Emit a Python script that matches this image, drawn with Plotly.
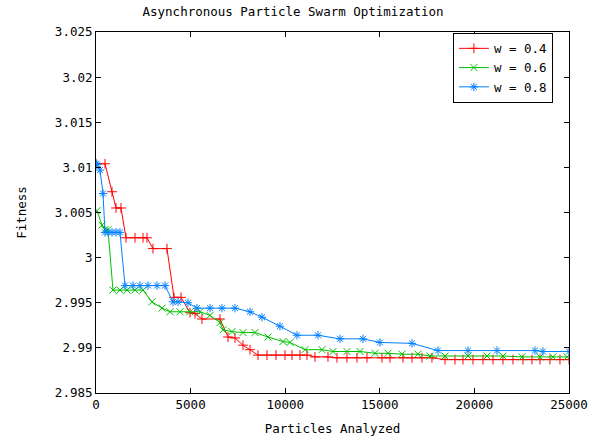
import plotly.graph_objects as go

# ---- data ----
x_w04 = [0, 476, 846, 1057, 1321, 1586, 2061, 2484, 2695, 3012, 3752, 4122, 4492,
         4968, 5232, 5602, 6553, 6976, 7346, 7769, 8139, 8562, 9037, 9513, 9989,
         10359, 10781, 11151, 11574, 12261, 12737, 13265, 13794, 14322, 15115,
         15538, 16225, 16700, 17229, 17757, 18445, 18973, 19396, 19925, 20453,
         20982, 21510, 22039, 22567, 23043, 23465, 23994, 24522, 25000]
y_w04 = [3.0104, 3.0104, 3.0073, 3.0055, 3.0055, 3.0022, 3.0022, 3.0022, 3.0022,
         3.0010, 3.0010, 2.9956, 2.9956, 2.9939, 2.9938, 2.9932, 2.9932, 2.9912,
         2.9911, 2.9903, 2.9898, 2.9892, 2.9892, 2.9892, 2.9892, 2.9892, 2.9892,
         2.9892, 2.9890, 2.9890, 2.9889, 2.9889, 2.9889, 2.9889, 2.9889, 2.9889,
         2.9889, 2.9889, 2.9889, 2.9889, 2.9887, 2.9887, 2.9887, 2.9887, 2.9887,
         2.9887, 2.9887, 2.9887, 2.9887, 2.9887, 2.9887, 2.9887, 2.9887, 2.9887]

x_w06 = [53, 317, 476, 634, 898, 1268, 1638, 2061, 2484, 2960, 3488, 3911, 4439,
         4968, 5497, 6025, 6553, 6712, 7188, 7769, 8403, 9090, 9883, 10253, 11046,
         11944, 12525, 13265, 13952, 14745, 15432, 16172, 17017, 17652, 18445,
         19661, 20665, 21510, 22514, 23465, 24152, 24900]
y_w06 = [3.0052, 3.0036, 3.0031, 3.0031, 2.9964, 2.9964, 2.9964, 2.9964, 2.9964,
         2.9951, 2.9944, 2.9940, 2.9940, 2.9940, 2.9940, 2.9936, 2.9928, 2.9920,
         2.9918, 2.9917, 2.9917, 2.9912, 2.9907, 2.9906, 2.9898, 2.9898, 2.9896,
         2.9896, 2.9896, 2.9894, 2.9894, 2.9893, 2.9893, 2.9891, 2.9891, 2.9891,
         2.9891, 2.9891, 2.9890, 2.9890, 2.9890, 2.9890]

x_w08 = [0, 53, 211, 370, 476, 634, 846, 1057, 1268, 1533, 1955, 2325, 2748, 3224,
         3647, 4069, 4334, 4862, 5338, 6025, 6659, 7346, 8139, 8773, 9724, 10623,
         11733, 12895, 14111, 15009, 16700, 18075, 19661, 21193, 23201, 23624, 25000]
y_w08 = [3.0104, 3.0103, 3.0097, 3.0071, 3.0028, 3.0028, 3.0028, 3.0028, 3.0028,
         2.9969, 2.9969, 2.9969, 2.9969, 2.9969, 2.9969, 2.9951, 2.9951, 2.9950,
         2.9944, 2.9944, 2.9944, 2.9944, 2.9940, 2.9934, 2.9924, 2.9914, 2.9914,
         2.9910, 2.9910, 2.9906, 2.9905, 2.9897, 2.9897, 2.9897, 2.9897, 2.9896,
         2.9896]

series_names = ["w = 0.4", "w = 0.6", "w = 0.8"]

x_tick_vals = [0, 5000, 10000, 15000, 20000, 25000]
x_tick_text = ["0", "5000", "10000", "15000", "20000", "25000"]
y_tick_vals = [2.985, 2.99, 2.995, 3.0, 3.005, 3.01, 3.015, 3.02, 3.025]
y_tick_text = ["2.985", "2.99", "2.995", "3", "3.005", "3.01", "3.015", "3.02", "3.025"]

# ---- styling ----
FONT = "DejaVu Sans Mono"
FS = 12.5
colors = ["#ff0000", "#00c000", "#0080ff"]
symbols = ["cross-thin", "x-thin", "asterisk"]

fig = go.Figure()
for xs, ys, name, c, s in zip([x_w04, x_w06, x_w08], [y_w04, y_w06, y_w08],
                              series_names, colors, symbols):
    fig.add_trace(go.Scatter(
        x=xs, y=ys, name=name, mode="lines+markers",
        line=dict(color=c, width=1),
        marker=dict(symbol=s, size=7, color=c, line=dict(color=c, width=1)),
    ))

axis_common = dict(
    showgrid=False, zeroline=False, showline=True, linecolor="black", linewidth=1,
    mirror="ticks", ticks="inside", ticklen=5, tickcolor="black", tickwidth=1,
    tickfont=dict(family=FONT, size=FS, color="black"), automargin=False,
)

fig.update_layout(
    width=592, height=438,
    paper_bgcolor="white", plot_bgcolor="white",
    margin=dict(l=96, r=23, t=32, b=45),
    font=dict(family=FONT, size=FS, color="black"),
    title=dict(text="Asynchronous Particle Swarm Optimization", x=0.495, xref="container",
               xanchor="center", y=1, yref="container", yanchor="top",
               pad=dict(t=7),
               font=dict(family=FONT, size=FS, color="black")),
    xaxis=dict(range=[0, 25000], tickvals=x_tick_vals, ticktext=x_tick_text,
               title=dict(text="Particles Analyzed", standoff=13,
                          font=dict(family=FONT, size=FS)),
               **axis_common),
    yaxis=dict(range=[2.985, 3.025], tickvals=y_tick_vals, ticktext=y_tick_text,
               title=dict(text="Fitness", standoff=25,
                          font=dict(family=FONT, size=FS)),
               **axis_common),
    legend=dict(x=0.966, y=0.998, xanchor="right", yanchor="top",
                bgcolor="white", bordercolor="black", borderwidth=1,
                font=dict(family=FONT, size=FS), tracegroupgap=0,
                itemwidth=30),
    showlegend=True,
)

fig.write_html("out.html", config={"displayModeBar": False},
               post_script="document.body.style.margin='0px';")
